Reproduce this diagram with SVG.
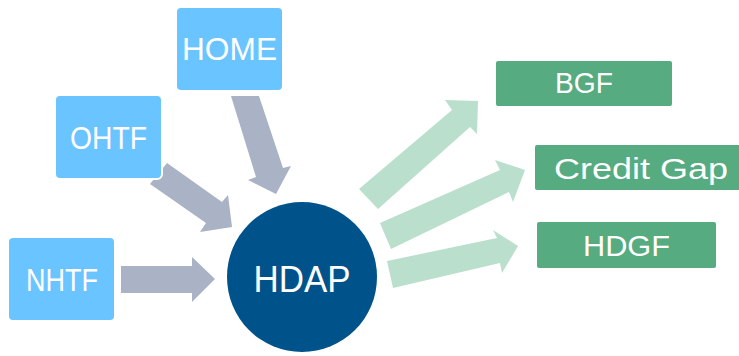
<svg xmlns="http://www.w3.org/2000/svg" width="739" height="356" viewBox="0 0 739 356">
<style>
.src rect{fill:#6AC4FF;stroke:#FFFFFF;stroke-width:2}
.dst rect{fill:#56AB80}
.lbl{font-family:"Liberation Sans",Arial,sans-serif;fill:#FFFFFF;text-anchor:middle}
.in{fill:#A9B3C5}
.out{fill:#BADFCD}
</style>
<rect width="739" height="356" fill="#FFFFFF"/>
<g id="connectors">
<polygon class="in" points="231,96 259,96 283,168 291,166 276,194 248,180 256,177"/>
<polygon class="in" points="167,163 222,202 228,195 232,227 200,232 206,223 150,184"/>
<polygon class="in" points="121,266 192,266 192,257 215,279 192,302 192,293 121,293"/>
<polygon class="out" points="359,189 452,110 445,100 478,101 477,134 470,127 378,209"/>
<polygon class="out" points="380,223 500,170 495,160 525,170 513,202 509,192 391,249"/>
<polygon class="out" points="387,261 497,238 493,230 518,246 502,273 500,263 393,288"/>
</g>
<g id="home" class="src">
<rect x="176" y="7" width="107" height="84" rx="5"/>
<text class="lbl" x="229.5" y="60" font-size="32" textLength="95" lengthAdjust="spacingAndGlyphs">HOME</text>
</g>
<g id="ohtf" class="src">
<rect x="55" y="95" width="107" height="84" rx="5"/>
<text class="lbl" x="108.5" y="149" font-size="32" textLength="77" lengthAdjust="spacingAndGlyphs">OHTF</text>
</g>
<g id="nhtf" class="src">
<rect x="8" y="237" width="107" height="84" rx="5"/>
<text class="lbl" x="62" y="291" font-size="32" textLength="72" lengthAdjust="spacingAndGlyphs">NHTF</text>
</g>
<g id="hdap">
<circle cx="302" cy="277" r="75" fill="#00538A"/>
<text class="lbl" x="302" y="292" font-size="36" textLength="97" lengthAdjust="spacingAndGlyphs">HDAP</text>
</g>
<g id="bgf" class="dst">
<rect x="496" y="61" width="176" height="45" rx="2"/>
<text class="lbl" x="584" y="93" font-size="29" textLength="58" lengthAdjust="spacingAndGlyphs">BGF</text>
</g>
<g id="credit-gap" class="dst">
<rect x="535" y="145" width="212" height="45" rx="2"/>
<text class="lbl" x="641" y="179" font-size="29" textLength="174" lengthAdjust="spacingAndGlyphs">Credit Gap</text>
</g>
<g id="hdgf" class="dst">
<rect x="537" y="222" width="179" height="46" rx="2"/>
<text class="lbl" x="626.5" y="256" font-size="29" textLength="87" lengthAdjust="spacingAndGlyphs">HDGF</text>
</g>
</svg>
